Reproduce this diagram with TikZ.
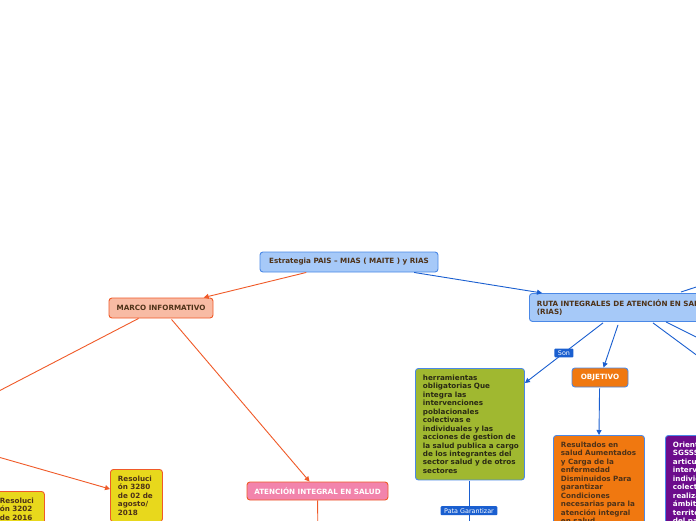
\documentclass[tikz,border=0pt]{standalone}
\usepackage{fontspec}
\setmainfont{DejaVu Sans}
\usetikzlibrary{arrows.meta,calc}
\definecolor{lblue}{HTML}{A6C9F8}
\definecolor{bblue}{HTML}{4A88E6}
\definecolor{eblue}{HTML}{1A5FD0}
\definecolor{salmon}{HTML}{F8BBA4}
\definecolor{ored}{HTML}{F05A28}
\definecolor{brn}{HTML}{4E3218}
\definecolor{orng}{HTML}{F07810}
\definecolor{olive}{HTML}{A0B830}
\definecolor{purp}{HTML}{6C0C8C}
\definecolor{pink}{HTML}{F284AC}
\definecolor{yell}{HTML}{E8D81C}
\definecolor{dtxt}{HTML}{2A2A14}
\begin{document}
\begin{tikzpicture}[x=1pt,y=-1pt,
  font=\bfseries\fontsize{7.2}{8.45}\selectfont,
  box/.style={draw, rounded corners=3pt, line width=0.9pt},
  bluebox/.style={box, fill=lblue, draw=bblue, text=brn},
  tallbox/.style={box, anchor=north west, align=left, inner xsep=7.5pt, inner ysep=6.5pt},
  tag/.style={fill=eblue, text=white, font=\fontsize{6.4}{7}\selectfont, inner xsep=3.5pt, inner ysep=2pt, rounded corners=1pt},
  oline/.style={draw=ored, line width=0.9pt},
  bline/.style={draw=eblue, line width=0.9pt},
  tip/.style={-{Triangle[length=5pt,width=5pt]}}]
\useasboundingbox (0,0) rectangle (696,520);
\fill[white] (0,0) rectangle (696,520);
\clip (0,0) rectangle (696,520);

% nodes
\node[bluebox, minimum width=178pt, minimum height=20pt, inner sep=0pt] (root) at (349,262) {Estrategia PAIS -- MIAS ( MAITE ) y RIAS};
\node[box, fill=salmon, draw=ored, text=brn, minimum width=104pt, minimum height=20pt, inner sep=0pt] (marco) at (161,308) {MARCO INFORMATIVO};
\node[bluebox, anchor=north west, minimum width=205pt, minimum height=28pt, text width=190pt, align=left, inner xsep=7.5pt, inner ysep=2pt, font=\bfseries\fontsize{7.2}{8}\selectfont] (ruta) at (529,293) {RUTA INTEGRALES DE ATENCIÓN EN SALUD\\(RIAS)};
\node[box, fill=orng, draw=bblue, text=white, minimum width=56pt, minimum height=19pt, inner sep=0pt] (obj) at (600,377.5) {OBJETIVO};
\node[tallbox, fill=olive, draw=bblue, text=dtxt, text width=94pt] (herr) at (415,368) {herramientas\\obligatorias Que\\integra las\\intervenciones\\poblacionales\\colectivas e\\individuales y las\\\mbox{acciones de gestion de}\\\mbox{la salud publica a cargo}\\\mbox{de los integrantes del}\\\mbox{sector salud y de otros}\\sectores};
\node[tallbox, fill=orng, draw=bblue, text=brn, text width=76pt] (res) at (553,435) {Resultados en\\salud Aumentados\\y Carga de la\\enfermedad\\Disminuidos Para\\garantizar\\Condiciones\\necesarias para la\\atención integral\\en salud};
\node[tallbox, fill=purp, draw=bblue, text=white, text width=80pt] (orient) at (665,435) {Orientan al\\SGSSS\\articulando\\intervenciones\\individuales y\\colectivas a\\realizar en los\\ámbitos\\territoriales\\del país};
\node[box, fill=pink, draw=ored, text=white, minimum width=141pt, minimum height=18pt, inner sep=0pt] (aten) at (317.5,491) {ATENCIÓN INTEGRAL EN SALUD};
\node[tallbox, fill=yell, draw=ored, text=brn, text width=37pt] (r3280) at (110,469) {Resoluci\\ón 3280\\de 02 de\\agosto/\\2018};
\node[tallbox, fill=yell, draw=ored, text=brn, text width=37pt] (r3202) at (-8,491) {Resoluci\\ón 3202\\de 2016\\};

% off-frame ends
\coordinate (offA) at (-80,432);
\coordinate (offB) at (-110,426);
\coordinate (atenD) at (318,540);
\coordinate (herrD) at (469,540);
\coordinate (offC) at (760,402);
\coordinate (offD) at (760,369);
\coordinate (offE) at (760,266);

% connectors
\draw[oline, tip] (root) -- (marco);
\draw[bline, tip] (root) -- (ruta);
\draw[oline, tip] ($(marco.south west)+(30,0)$) -- (offA);
\draw[oline, tip] (offB) -- ($(r3280.north west)+(0,20)$);
\draw[oline, tip] ($(marco.south west)+(63,1)$) -- ($(aten.north west)+(63,0)$);
\draw[oline] ($(aten.south west)+(71,0)$) -- (atenD);
\draw[bline, tip] ($(ruta.south west)+(74,1)$) -- node[tag] {Son} ($(herr.north east)+(0,15)$);
\draw[bline, tip] ($(ruta.south west)+(89,3)$) -- ($(obj.north west)+(32,0)$);
\draw[bline, tip] ($(obj.south west)+(28,1)$) -- ($(res.north west)+(46,0)$);
\draw[bline] ($(ruta.south west)+(124,1)$) -- (offC);
\draw[bline] ($(ruta.south west)+(137,0)$) -- (offD);
\draw[bline] ($(ruta.north west)+(152,-1)$) -- (offE);
\draw[bline] ($(herr.south west)+(54,1)$) -- node[tag] {Pata Garantizar} (herrD);
\end{tikzpicture}
\end{document}
